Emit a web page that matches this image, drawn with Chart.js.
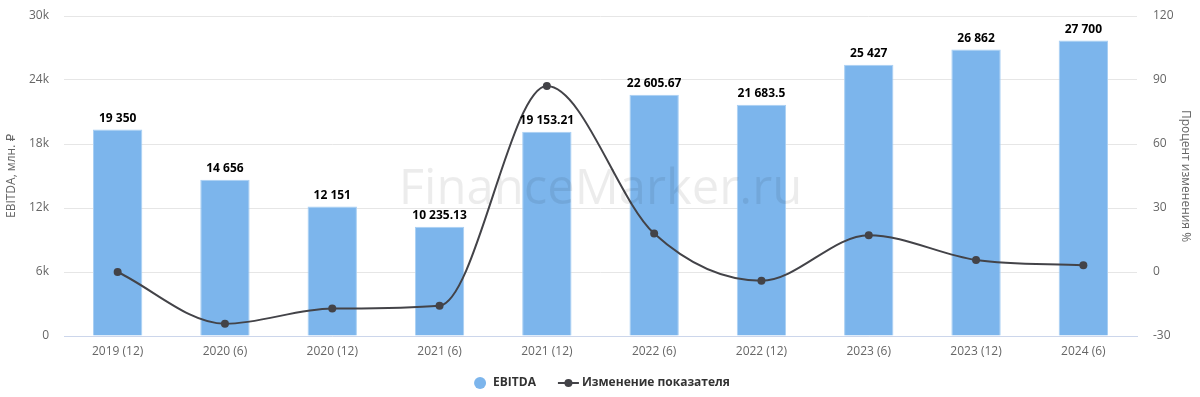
<!DOCTYPE html>
<html>
<head>
<meta charset="utf-8">
<script src="https://cdn.jsdelivr.net/npm/chart.js@4.4.1/dist/chart.umd.min.js"></script>
<style>
  html, body { margin: 0; padding: 0; background: #fff; }
  #wrap { width: 1200px; height: 397px; }
</style>
</head>
<body>
<div id="wrap"><canvas id="chart"></canvas></div>
<script>
const periods = ['2019 (12)', '2020 (6)', '2020 (12)', '2021 (6)', '2021 (12)', '2022 (6)', '2022 (12)', '2023 (6)', '2023 (12)', '2024 (6)'];
const ebitda = [19350, 14656, 12151, 10235.13, 19153.21, 22605.67, 21683.5, 25427, 26862, 27700];
const changePct = [0, -24.26, -17.09, -15.77, 87.13, 18.03, -4.08, 17.26, 5.64, 3.12];
const leftTicks = [0, 6000, 12000, 18000, 24000, 30000];
const rightTicks = [-30, 0, 30, 60, 90, 120];

const FONT = "'Open Sans', 'DejaVu Sans', sans-serif";
const BAR_COLOR = '#7cb5ec';
const LINE_COLOR = '#434348';

function fmtNum(v) {
  const parts = String(v).split('.');
  parts[0] = parts[0].replace(/\B(?=(\d{3})+(?!\d))/g, ' ');
  return parts.join('.');
}

const watermark = {
  id: 'watermark',
  afterDatasetsDraw(chart) {
    const { ctx, chartArea } = chart;
    ctx.save();
    ctx.font = '49px ' + FONT;
    ctx.fillStyle = 'rgba(0,0,0,0.075)';
    ctx.textAlign = 'center';
    ctx.textBaseline = 'alphabetic';
    ctx.fillText('FinanceMarker.ru', (chartArea.left + chartArea.right) / 2, 204);
    ctx.restore();
  }
};

const barLabels = {
  id: 'barLabels',
  afterDatasetsDraw(chart) {
    const { ctx } = chart;
    const meta = chart.getDatasetMeta(0);
    ctx.save();
    ctx.font = 'bold 12px ' + FONT;
    ctx.fillStyle = '#000';
    ctx.textAlign = 'center';
    ctx.textBaseline = 'bottom';
    meta.data.forEach((bar, i) => {
      ctx.fillText(fmtNum(ebitda[i]), bar.x, bar.y - 5);
    });
    ctx.restore();
  }
};

// legend drawn by hand: circle for bars, line with dot for the line series
const customLegend = {
  id: 'customLegend',
  afterDraw(chart) {
    const { ctx } = chart;
    const names = chart.data.datasets.map(ds => ds.label);
    const y = 383;
    ctx.save();
    ctx.font = 'bold 12px ' + FONT;
    const w1 = 12 + 7 + ctx.measureText(names[0]).width;
    const w2 = 21 + 3 + ctx.measureText(names[1]).width;
    let x = 602 - (w1 + 22 + w2) / 2;

    ctx.fillStyle = BAR_COLOR;
    ctx.beginPath();
    ctx.arc(x + 6, y, 6, 0, Math.PI * 2);
    ctx.fill();
    ctx.fillStyle = '#333';
    ctx.textBaseline = 'middle';
    ctx.textAlign = 'left';
    ctx.fillText(names[0], x + 19, y);

    x += w1 + 22;
    ctx.strokeStyle = LINE_COLOR;
    ctx.lineWidth = 2;
    ctx.beginPath();
    ctx.moveTo(x, y);
    ctx.lineTo(x + 21, y);
    ctx.stroke();
    ctx.fillStyle = LINE_COLOR;
    ctx.beginPath();
    ctx.arc(x + 10.5, y, 4, 0, Math.PI * 2);
    ctx.fill();
    ctx.fillStyle = '#333';
    ctx.fillText(names[1], x + 24, y);
    ctx.restore();
  }
};

const noPad = s => { s.paddingTop = 0; s.paddingBottom = 0; };

new Chart(document.getElementById('chart'), {
  data: {
    labels: periods,
    datasets: [
      {
        type: 'bar',
        label: 'EBITDA',
        data: ebitda,
        yAxisID: 'y',
        backgroundColor: BAR_COLOR,
        borderColor: '#a9cff3',
        borderWidth: 1,
        barPercentage: 0.46,
        categoryPercentage: 1,
        order: 2
      },
      {
        type: 'line',
        label: 'Изменение показателя',
        data: changePct,
        yAxisID: 'y1',
        borderColor: LINE_COLOR,
        backgroundColor: LINE_COLOR,
        borderWidth: 2,
        pointRadius: 4,
        pointBackgroundColor: LINE_COLOR,
        pointBorderWidth: 0,
        pointStyle: 'circle',
        tension: 0.4,
        cubicInterpolationMode: 'monotone',
        fill: false,
        order: 1
      }
    ]
  },
  options: {
    responsive: true,
    maintainAspectRatio: false,
    animation: false,
    layout: { padding: { top: 16, bottom: 29, left: 0, right: 0 } },
    plugins: {
      tooltip: { enabled: false },
      legend: { display: false }
    },
    scales: {
      x: {
        grid: { display: false, drawTicks: false },
        border: { color: '#ccd6eb', width: 1 },
        ticks: { color: '#666', font: { family: FONT, size: 12 }, padding: 8, maxRotation: 0 },
        afterFit: s => { s.height = 32; }
      },
      y: {
        position: 'left',
        min: 0,
        max: 30000,
        afterBuildTicks: s => { s.ticks = leftTicks.map(v => ({ value: v })); },
        grid: { color: '#e6e6e6', drawTicks: false },
        border: { display: false },
        ticks: {
          color: '#666',
          font: { family: FONT, size: 12 },
          padding: 15,
          callback: v => v === 0 ? '0' : (v / 1000) + 'k'
        },
        title: {
          display: true,
          text: 'EBITDA, млн. ₽',
          color: '#666',
          font: { family: FONT, size: 12 },
          padding: { top: 4, bottom: 0 }
        },
        afterFit: s => { s.width = 64; noPad(s); }
      },
      y1: {
        position: 'right',
        min: -30,
        max: 120,
        afterBuildTicks: s => { s.ticks = rightTicks.map(v => ({ value: v })); },
        grid: { display: false, drawTicks: false },
        border: { display: false },
        ticks: {
          color: '#666',
          font: { family: FONT, size: 12 },
          padding: 16
        },
        title: {
          display: true,
          text: 'Процент изменения %',
          color: '#666',
          font: { family: FONT, size: 12 },
          padding: { top: 7, bottom: 0 }
        },
        afterFit: s => { s.width = 63; noPad(s); }
      }
    }
  },
  plugins: [watermark, barLabels, customLegend]
});
</script>
</body>
</html>
